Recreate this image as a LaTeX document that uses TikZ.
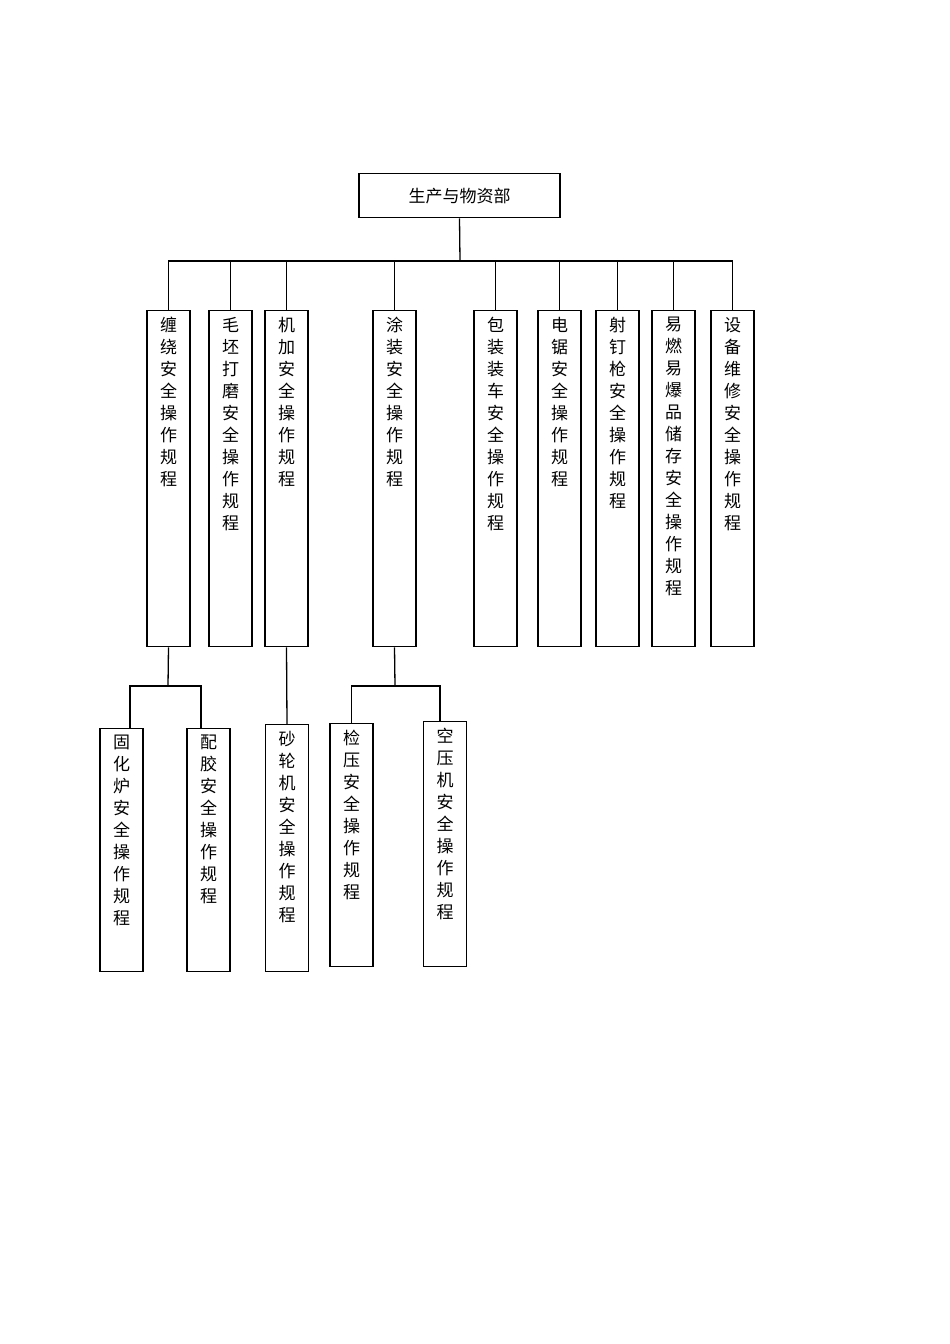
\documentclass[tikz,border=0pt]{standalone}
\usepackage{fontspec}
\newfontfamily\cjk{Noto Sans CJK SC}
\def\vt#1{\vtaux#1\relax}
\def\vtaux#1{\ifx#1\relax\else#1\par\expandafter\vtaux\fi}
\tikzset{box/.style={draw,line width=1.3pt,minimum width=43pt,anchor=north,inner sep=0pt},
 txt/.style={anchor=north,inner sep=0pt,text width=20pt,align=center,font=\cjk\fontsize{17}{22}\selectfont},
 ln/.style={line width=1.3pt}}
\newcommand\mybox[5]{% name, cx, top, bottom, text
 \node[box,minimum height=#4-#3] (#1) at (#2,-#3) {};
 \node[txt] at (#2,-#3-7) {\vt{#5}};}
\begin{document}
\begin{tikzpicture}[x=1pt,y=1pt]
\useasboundingbox (0,0) rectangle (950,-1344);
\node[draw,line width=1.3pt,minimum width=201pt,minimum height=44pt,anchor=north,font=\cjk\fontsize{17}{20}\selectfont] (top) at (459.5,-173) {生产与物资部};
\coordinate (j) at (460,-261);
\draw[ln] (top.south) -- (j);
\mybox{b1}{168.5}{310}{646}{缠绕安全操作规程}
\mybox{b2}{230.5}{310}{646}{毛坯打磨安全操作规程}
\mybox{b3}{286.5}{310}{646}{机加安全操作规程}
\mybox{b4}{394.5}{310}{646}{涂装安全操作规程}
\mybox{b5}{495.5}{310}{646}{包装装车安全操作规程}
\mybox{b6}{559.5}{310}{646}{电锯安全操作规程}
\mybox{b7}{617.5}{310}{646}{射钉枪安全操作规程}
\mybox{b8}{673.5}{310}{646}{易燃易爆品储存安全操作规程}
\mybox{b9}{732.5}{310}{646}{设备维修安全操作规程}
\foreach \b in {b1,b2,b3,b4,b5,b6,b7,b8,b9} \draw[ln] (\b.north) |- (j);
\mybox{c1}{121.5}{728}{971}{固化炉安全操作规程}
\mybox{c2}{208.5}{728}{971}{配胶安全操作规程}
\mybox{c3}{287}{724}{971}{砂轮机安全操作规程}
\mybox{c4}{351.5}{723}{966}{检压安全操作规程}
\mybox{c5}{445}{721}{966}{空压机安全操作规程}
\coordinate (k1) at (168,-686);
\coordinate (k2) at (395,-686);
\draw[ln] (b1.south) -- (k1);
\draw[ln] (c1.north -| 130,0) |- (k1);
\draw[ln] (c2.north -| 201,0) |- (k1);
\draw[ln] (b3.south) -- (c3.north);
\draw[ln] (b4.south) -- (k2);
\draw[ln] (c4.north) |- (k2);
\draw[ln] (c5.north -| 440,0) |- (k2);
\end{tikzpicture}
\end{document}
